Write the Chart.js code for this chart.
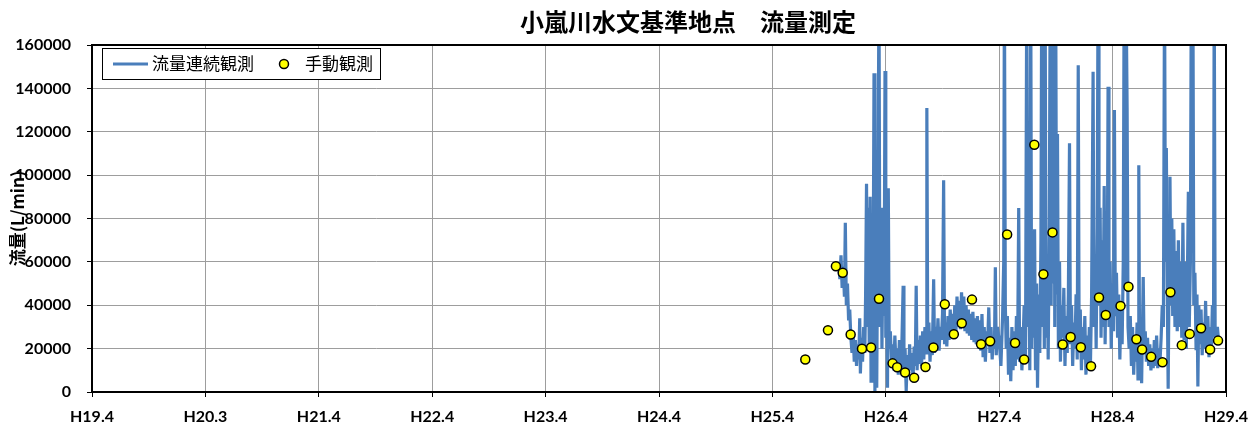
<!DOCTYPE html>
<html>
<head>
<meta charset="utf-8">
<script src="https://cdn.jsdelivr.net/npm/chart.js@4.4.1/dist/chart.umd.min.js"></script>
<style>
  body { margin: 0; background: #fff; }
  #chart-box { width: 1260px; height: 428px; }
</style>
</head>
<body>
<div id="chart-box"><canvas id="flowChart" width="1260" height="428"></canvas></div>
<script>
const chartTitle = '小嵐川水文基準地点　流量測定';
const yTitle = '流量(L/min)';
const lineLabel = '流量連続観測';
const pointLabel = '手動観測';

// x axis: years counted from H19.4, one label per major tick
const xLabels = ['H19.4', 'H20.3', 'H21.4', 'H22.4', 'H23.4', 'H24.4', 'H25.4', 'H26.4', 'H27.4', 'H28.4', 'H29.4'];
const yTicks = [0, 20000, 40000, 60000, 80000, 100000, 120000, 140000, 160000];

// manual measurements (years from H19.4, L/min)
const manualDates = [6.29, 6.49, 6.56, 6.62, 6.69, 6.79, 6.87, 6.94, 7.06, 7.10, 7.17, 7.25, 7.35, 7.42, 7.52,
  7.60, 7.67, 7.76, 7.84, 7.92, 8.07, 8.14, 8.22, 8.31, 8.39, 8.47, 8.56, 8.63, 8.72, 8.81, 8.88, 8.94,
  9.07, 9.14, 9.21, 9.26, 9.34, 9.44, 9.51, 9.61, 9.68, 9.78, 9.86, 9.93];
const manualValues = [15000, 28500, 58000, 55000, 26500, 20000, 20500, 43000, 13200, 11400, 9000, 6600, 11500, 20500, 40500,
  26600, 31700, 42600, 22000, 23400, 72600, 22600, 15000, 114000, 54300, 73600, 21900, 25400, 20600, 11900, 43600, 35500,
  39700, 48500, 24300, 19600, 16200, 13700, 46000, 21600, 26800, 29400, 19600, 23700];

// continuous record [years from H19.4, L/min]
const flowRecord = [
  [6.585, 60000], [6.595, 52000], [6.605, 63000], [6.615, 48000], [6.625, 58000], [6.635, 44000], [6.643, 78000],
  [6.652, 40000], [6.662, 50000], [6.672, 33000], [6.682, 38000], [6.692, 25000],
  [6.702, 18000], [6.712, 27000], [6.722, 14000], [6.732, 24000], [6.742, 12000], [6.752, 22000], [6.762, 15000],
  [6.770, 34000], [6.776, 8500], [6.785, 25000], [6.795, 14000], [6.805, 30000], [6.815, 18000],
  [6.822, 45000], [6.830, 96000], [6.838, 30000], [6.846, 85000], [6.854, 20000], [6.862, 90000], [6.870, 5000],
  [6.878, 80000], [6.886, 15000], [6.896, 147000], [6.904, 0], [6.912, 75000], [6.920, 2000], [6.930, 88000],
  [6.940, 185000], [6.948, 30000], [6.958, 85000], [6.966, 20000], [6.976, 70000], [6.985, 35000], [6.993, 148000],
  [7.000, 25000], [7.008, 40000], [7.015, 2000], [7.022, 94000], [7.030, 20000],
  [7.040, 28000], [7.050, 14000], [7.060, 22000], [7.070, 10000], [7.080, 26000], [7.090, 12000], [7.100, 20000],
  [7.110, 8000], [7.120, 24000], [7.130, 11000], [7.140, 18000], [7.153, 49000], [7.160, 9000], [7.170, 20000],
  [7.180, 500], [7.190, 17000], [7.200, 7000], [7.210, 22000], [7.220, 10000], [7.230, 18000], [7.240, 6000],
  [7.250, 21000], [7.260, 12000], [7.268, 49000], [7.276, 10000], [7.285, 24000], [7.295, 13000],
  [7.305, 26000], [7.315, 12000], [7.325, 28000], [7.335, 15000], [7.345, 30000], [7.355, 18000], [7.362, 131000],
  [7.370, 20000], [7.380, 32000], [7.390, 14000], [7.400, 28000], [7.410, 17000], [7.422, 52000], [7.430, 18000],
  [7.440, 30000],
  [7.450, 20000], [7.460, 34000], [7.470, 19000], [7.480, 30000], [7.490, 24000], [7.500, 36000], [7.510, 97600],
  [7.518, 22000], [7.528, 32000], [7.538, 21000], [7.548, 35000], [7.558, 24000], [7.568, 38000], [7.578, 27000],
  [7.588, 36000], [7.598, 25000], [7.608, 40000], [7.618, 27000], [7.628, 44000], [7.638, 30000], [7.648, 42000],
  [7.658, 29000], [7.668, 46000], [7.678, 31000], [7.688, 44000], [7.698, 28000], [7.708, 40000], [7.718, 27000],
  [7.728, 38000], [7.738, 26000], [7.748, 36000], [7.758, 24000], [7.768, 37000], [7.778, 23000], [7.788, 34000],
  [7.798, 22000], [7.808, 35000], [7.818, 20000], [7.828, 33000], [7.838, 19000], [7.848, 36000], [7.858, 16000],
  [7.868, 30000], [7.878, 14000], [7.888, 28000], [7.898, 22000], [7.908, 39000], [7.918, 18000], [7.928, 30000],
  [7.938, 15000], [7.948, 26000], [7.958, 20000], [7.966, 57500], [7.974, 17000], [7.984, 30000],
  [8.000, 24000], [8.015, 12000], [8.030, 35000], [8.040, 60000], [8.046, 190000], [8.054, 40000], [8.062, 20000],
  [8.072, 35000], [8.082, 8000], [8.092, 25000], [8.102, 5000], [8.112, 30000], [8.122, 10000], [8.132, 28000],
  [8.142, 12000], [8.152, 35000], [8.162, 15000], [8.172, 84800], [8.180, 14000], [8.190, 30000], [8.200, 10000],
  [8.210, 22000], [8.220, 40000], [8.232, 15000], [8.243, 190000], [8.252, 30000], [8.262, 55000], [8.270, 10000],
  [8.278, 190000], [8.286, 20000], [8.294, 60000], [8.302, 25000], [8.312, 75000], [8.320, 10000], [8.330, 50000],
  [8.338, 2000], [8.348, 45000], [8.358, 18000], [8.368, 70000], [8.375, 190000], [8.383, 30000], [8.392, 65000],
  [8.398, 20000], [8.405, 190000], [8.413, 25000], [8.423, 60000], [8.432, 15000], [8.442, 80000], [8.450, 190000],
  [8.458, 40000], [8.466, 190000], [8.474, 50000], [8.482, 190000], [8.490, 30000], [8.498, 190000], [8.506, 45000],
  [8.514, 119000], [8.522, 20000], [8.532, 60000], [8.540, 14000], [8.550, 40000],
  [8.560, 25000], [8.570, 48000], [8.580, 12000], [8.590, 35000], [8.600, 18000], [8.610, 45000], [8.620, 114700],
  [8.628, 22000], [8.638, 40000], [8.648, 12000], [8.658, 32000], [8.668, 20000], [8.678, 45000], [8.688, 15000],
  [8.697, 150700], [8.705, 18000], [8.715, 38000], [8.725, 10000], [8.735, 30000], [8.745, 15000], [8.755, 35000],
  [8.765, 8000], [8.775, 26000], [8.785, 12000], [8.795, 30000],
  [8.805, 14000], [8.815, 45000], [8.828, 147700], [8.836, 30000], [8.846, 60000], [8.855, 20000], [8.864, 75000],
  [8.872, 190000], [8.880, 40000], [8.890, 85000], [8.898, 25000], [8.908, 70000], [8.916, 30000], [8.926, 95000],
  [8.934, 22000], [8.944, 65000], [8.952, 35000], [8.960, 140700], [8.968, 30000], [8.978, 60000], [8.988, 20000],
  [8.998, 50000], [9.008, 28000], [9.016, 130000], [9.024, 35000], [9.034, 55000], [9.044, 25000], [9.054, 45000],
  [9.064, 15000], [9.074, 40000], [9.084, 22000], [9.094, 60000], [9.102, 190000], [9.110, 50000], [9.118, 190000],
  [9.128, 131000], [9.136, 30000],
  [9.146, 20000], [9.156, 35000], [9.166, 12000], [9.176, 30000], [9.186, 8000], [9.196, 26000], [9.206, 14000],
  [9.216, 32000], [9.224, 6000], [9.231, 104600], [9.238, 15000], [9.248, 28000], [9.256, 4000], [9.262, 25000],
  [9.270, 53000], [9.278, 18000], [9.288, 28000], [9.298, 14000], [9.308, 25000], [9.318, 12000], [9.328, 22000],
  [9.338, 10000], [9.348, 20000], [9.358, 11000], [9.368, 24000], [9.378, 12000], [9.388, 26000], [9.398, 11000],
  [9.408, 20000], [9.418, 14000],
  [9.428, 25000], [9.438, 40000], [9.448, 30000], [9.458, 190000], [9.466, 60000], [9.474, 112500], [9.482, 45000],
  [9.490, 1500], [9.498, 55000], [9.506, 99200], [9.514, 40000], [9.522, 80000], [9.530, 35000], [9.540, 75000],
  [9.550, 30000], [9.560, 65000], [9.570, 28000], [9.580, 70000], [9.590, 30000], [9.600, 60000], [9.610, 25000],
  [9.620, 78000], [9.630, 24000], [9.640, 60000], [9.650, 20000], [9.660, 55000], [9.668, 92300], [9.676, 30000],
  [9.686, 60000], [9.694, 190000], [9.700, 70000], [9.708, 190000], [9.716, 40000], [9.726, 55000],
  [9.736, 20000], [9.744, 45000], [9.752, 2500], [9.760, 40000], [9.770, 22000], [9.780, 38000], [9.790, 17000],
  [9.800, 32000], [9.810, 20000], [9.820, 42000], [9.830, 18000], [9.840, 35000], [9.850, 16000], [9.860, 30000],
  [9.870, 18000], [9.880, 40000], [9.890, 25000], [9.896, 190000], [9.904, 30000], [9.914, 22000], [9.924, 30000],
  [9.934, 24000]
];

const lineColor = '#4a7ebb';
const gridColor = '#9d9d9d';
const tickFont = { family: 'Lato', size: 16, weight: 'bold' };
const cjkFont = '"Noto Sans CJK JP"';

// frame, titles and the boxed legend inside the plot
const decorations = {
  id: 'decorations',
  afterDatasetsDraw(chart) {
    const { ctx, chartArea: a } = chart;
    ctx.save();
    ctx.strokeStyle = '#000';
    ctx.lineWidth = 2;
    ctx.strokeRect(a.left, a.top, a.right - a.left, a.bottom - a.top);

    // legend
    ctx.fillStyle = '#fff';
    ctx.fillRect(102, 48, 278, 31);
    ctx.lineWidth = 1;
    ctx.strokeRect(102.5, 48.5, 278, 31);
    ctx.strokeStyle = lineColor;
    ctx.lineWidth = 3;
    ctx.beginPath();
    ctx.moveTo(113, 64);
    ctx.lineTo(148, 64);
    ctx.stroke();
    ctx.fillStyle = '#000';
    ctx.font = `17px ${cjkFont}`;
    ctx.textBaseline = 'middle';
    ctx.textAlign = 'left';
    ctx.fillText(lineLabel, 152, 64);
    ctx.beginPath();
    ctx.arc(284, 64, 4.5, 0, Math.PI * 2);
    ctx.fillStyle = '#ffff00';
    ctx.fill();
    ctx.lineWidth = 1.5;
    ctx.strokeStyle = '#000';
    ctx.stroke();
    ctx.fillStyle = '#000';
    ctx.fillText(pointLabel, 305, 64);
    ctx.restore();
  },
  afterDraw(chart) {
    const { ctx, chartArea: a } = chart;
    ctx.save();
    ctx.fillStyle = '#000';
    ctx.textAlign = 'center';
    ctx.textBaseline = 'middle';
    ctx.font = `bold 24px ${cjkFont}`;
    ctx.fillText(chartTitle, 688, 22);
    ctx.translate(18, (a.top + a.bottom) / 2);
    ctx.rotate(-Math.PI / 2);
    ctx.font = `bold 17px ${cjkFont}`;
    ctx.fillText(yTitle, 0, 0);
    ctx.restore();
  }
};

const flowChart = new Chart(document.getElementById('flowChart'), {
  type: 'scatter',
  data: {
    datasets: [
      {
        label: pointLabel,
        data: manualDates.map((d, i) => ({ x: d, y: manualValues[i] })),
        backgroundColor: '#ffff00',
        borderColor: '#000',
        borderWidth: 1.5,
        pointRadius: 4.5,
        order: 1
      },
      {
        label: lineLabel,
        data: flowRecord.map(p => ({ x: p[0], y: p[1] })),
        showLine: true,
        borderColor: lineColor,
        borderWidth: 3.2,
        pointRadius: 0,
        tension: 0,
        order: 2
      }
    ]
  },
  options: {
    responsive: false,
    animation: false,
    devicePixelRatio: 1,
    layout: { padding: { top: 45, right: 34, bottom: 0, left: 0 } },
    plugins: {
      legend: { display: false },
      title: { display: false },
      tooltip: { enabled: false }
    },
    scales: {
      x: {
        type: 'linear',
        min: 0,
        max: xLabels.length - 1,
        afterFit: scale => { scale.height = 36; },
        afterBuildTicks: scale => { scale.ticks = xLabels.map((l, i) => ({ value: i })); },
        ticks: {
          font: tickFont,
          color: '#000',
          padding: 10,
          maxRotation: 0,
          autoSkip: false,
          callback: v => xLabels[v]
        },
        grid: { color: gridColor, tickColor: '#000', tickLength: 5, lineWidth: 1 },
        border: { color: '#000', width: 2 }
      },
      y: {
        min: 0,
        max: 160000,
        afterFit: scale => { scale.width = 92; },
        afterBuildTicks: scale => { scale.ticks = yTicks.map(v => ({ value: v })); },
        ticks: {
          font: tickFont,
          color: '#000',
          padding: 16,
          callback: v => String(v)
        },
        grid: { color: gridColor, tickColor: '#000', tickLength: 5, lineWidth: 1 },
        border: { color: '#000', width: 2 }
      }
    }
  },
  plugins: [decorations]
});
</script>
</body>
</html>
